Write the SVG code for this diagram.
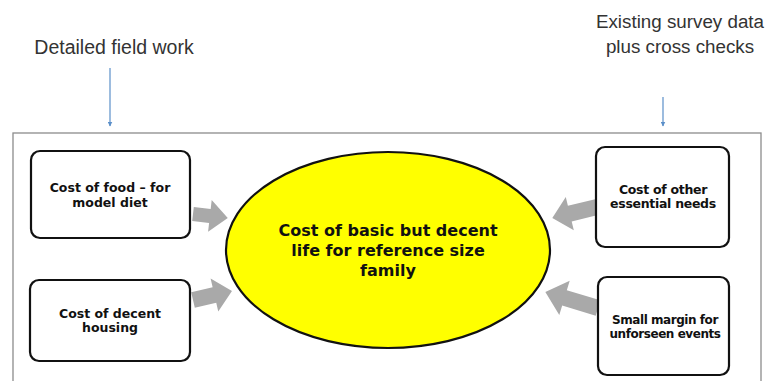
<svg xmlns="http://www.w3.org/2000/svg" width="769" height="381" viewBox="0 0 769 381">
<style>
.lbl{font-family:"Liberation Sans",Arial,sans-serif;font-size:18.8px;fill:#333;text-anchor:middle}
.box{fill:#fff;stroke:#111;stroke-width:2.2}
.bt{font-family:"DejaVu Sans",Verdana,sans-serif;font-weight:bold;font-size:12.5px;fill:#111;text-anchor:middle}
.ct{font-family:"DejaVu Sans",Verdana,sans-serif;font-weight:bold;font-size:16px;fill:#111;text-anchor:middle}
.ga{fill:#a9a9a9}
.bl{stroke:#5b8fc9;stroke-width:1.2;fill:none}
</style>
<defs>
<marker id="bh" viewBox="0 0 10 10" refX="9" refY="5" markerWidth="5" markerHeight="5" orient="auto" markerUnits="userSpaceOnUse">
<path d="M0,0 L10,5 L0,10 Z" fill="#5b8fc9"/>
</marker>
</defs>
<rect width="769" height="381" fill="#fff"/>
<rect id="frame" x="13" y="133" width="748" height="270" fill="#fff" stroke="#8c8c8c" stroke-width="1.3"/>
<g id="label-left"><text class="lbl" x="114" y="54" style="font-size:19.5px">Detailed field work</text></g>
<g id="label-right"><text class="lbl" x="680" y="28">Existing survey data</text><text class="lbl" x="680" y="53">plus cross checks</text></g>
<g id="connectors">
<line class="bl" x1="110" y1="68" x2="110" y2="126" marker-end="url(#bh)"/>
<line class="bl" x1="663" y1="97" x2="663" y2="126" marker-end="url(#bh)"/>
<path class="ga" transform="translate(193,214) rotate(6.5)" d="M0,-7 H17 V-16 L35,0 L17,16 V7 H0Z"/>
<path class="ga" transform="translate(193,300) rotate(-13)" d="M0,-8 H22 V-17 L40,0 L22,17 V8 H0Z"/>
<path class="ga" transform="translate(597,207) rotate(166.3)" d="M0,-8 H28 V-17 L46,0 L28,17 V8 H0Z"/>
<path class="ga" transform="translate(598,308) rotate(-163.2)" d="M0,-8 H35 V-18 L55,0 L35,18 V8 H0Z"/>
</g>
<g id="center">
<ellipse cx="388" cy="250" rx="162" ry="98" fill="#ffff00" stroke="#111" stroke-width="2.2"/>
<text class="ct" x="388" y="236">Cost of basic but decent</text>
<text class="ct" x="388" y="256">life for reference size</text>
<text class="ct" x="388" y="276">family</text>
</g>
<g id="food">
<rect class="box" x="31" y="151" width="159" height="87" rx="9"/>
<text class="bt" x="110" y="192">Cost of food – for</text>
<text class="bt" x="110" y="207">model diet</text>
</g>
<g id="housing">
<rect class="box" x="30" y="280" width="160" height="81" rx="9"/>
<text class="bt" x="110" y="318">Cost of decent</text>
<text class="bt" x="110" y="332">housing</text>
</g>
<g id="other">
<rect class="box" x="596" y="147" width="133" height="100" rx="9"/>
<text class="bt" x="663" y="194" letter-spacing="-0.3">Cost of other</text>
<text class="bt" x="663" y="208" letter-spacing="-0.3">essential needs</text>
</g>
<g id="margin">
<rect class="box" x="598" y="277" width="131" height="98" rx="9"/>
<text class="bt" x="665" y="324" style="font-size:12px" letter-spacing="-0.45">Small margin for</text>
<text class="bt" x="665" y="338" style="font-size:12px" letter-spacing="-0.45">unforseen events</text>
</g>
</svg>
